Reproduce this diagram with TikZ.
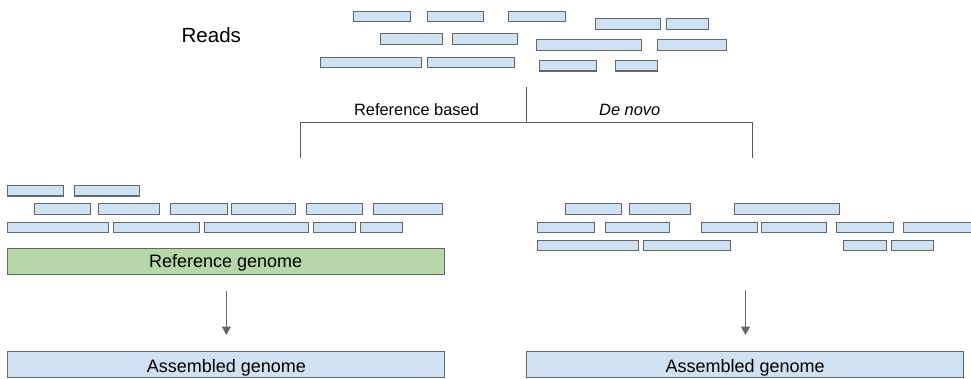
\documentclass[tikz,border=0pt]{standalone}
\usepackage{fontspec}
\setmainfont{Liberation Sans}
\usetikzlibrary{arrows.meta}
\definecolor{readblue}{HTML}{CFE2F3}
\definecolor{refgreen}{HTML}{B6D7A8}
\definecolor{boxline}{HTML}{666666}
\definecolor{treeline}{HTML}{595959}
\tikzset{
  read/.style={draw=boxline, fill=readblue, line width=1.1pt, inner sep=0pt,
    minimum height=10.5pt, anchor=north west},
  genome/.style={draw=boxline, line width=1.1pt, inner sep=0pt,
    minimum height=26pt, minimum width=437pt, anchor=north west},
  label/.style={anchor=base, inner sep=0pt},
  branch/.style={draw=treeline, line width=1pt},
  flow/.style={draw=boxline, line width=1.3pt, -{Triangle[length=8.5pt,width=9pt]}},
}
\begin{document}
\begin{tikzpicture}[x=1pt, y=-1pt]
  \clip (0,0) rectangle (971,379);
  \useasboundingbox (0,0) rectangle (971,379);

  % ---- unsorted reads ----
  \node[label, font=\fontsize{20.5}{24}\selectfont] (readslabel) at (211.3,42.3) {Reads};
  \foreach \x/\y/\w [count=\i] in {
      353.3/10.7/56.7, 426.7/10.7/56.6, 508.3/10.7/56.7,
      595/18.3/65, 666/18.3/42.3,
      380/33.3/61.7, 452.3/33.3/65,
      536/39.3/104.7, 656.7/39.3/69.3,
      320/56.7/100.7, 426.7/56.7/87,
      539.3/60/56.4, 614.7/60/42.6}
    \node[read, minimum width=\w pt] (top\i) at (\x,\y) {};

  % ---- branching into the two strategies ----
  \coordinate (split) at (526,87);
  \coordinate (fork) at (526,122.7);
  \coordinate (leftend) at (300.5,158.3);
  \coordinate (rightend) at (752.5,158.3);
  \path[branch] (split) -- (fork);
  \path[branch] (leftend) -- (leftend |- fork) -- (rightend |- fork) -- (rightend);
  \node[label, font=\fontsize{16.4}{20}\selectfont] (refbased) at (416.5,115.7) {Reference based};
  \node[label, font=\fontsize{16.4}{20}\selectfont\itshape] (denovo) at (629.7,115.7) {De novo};

  % ---- reads aligned to a reference ----
  \foreach \x/\y/\w [count=\i] in {
      7.3/185/56, 74/185/65,
      33.7/203.3/56.3, 98.3/203.3/61, 170/203.3/56.7, 231/203.3/64.3,
      306/203.3/56.3, 372.7/203.3/69.3,
      7.3/221.7/100.4, 112.7/221.7/86.6, 203.7/221.7/104.6,
      312.7/221.7/42.6, 360/221.7/42.3}
    \node[read, minimum width=\w pt] (aln\i) at (\x,\y) {};
  \node[genome, fill=refgreen] (refgenome) at (7.3,248.3) {};
  \node[label, font=\fontsize{18}{22}\selectfont] at (225.7,267.3) {Reference genome};

  % ---- reads overlapped de novo ----
  \foreach \x/\y/\w [count=\i] in {
      565/203.3/56, 629.3/203.3/61, 734.3/203.3/104.7,
      537.3/221.7/56.7, 604.7/221.7/64.6, 700.7/221.7/56, 761/221.7/65,
      836/221.7/57, 903.3/221.7/80,
      537.3/239.7/101, 643.3/239.7/86.4, 843.3/239.7/42.7, 890.7/239.7/42}
    \node[read, minimum width=\w pt] (dn\i) at (\x,\y) {};

  % ---- assembled results ----
  \node[genome, fill=readblue] (asmleft) at (7.3,351) {};
  \node[label, font=\fontsize{18}{22}\selectfont] at (asmleft.center |- 0,372.3) {Assembled genome};
  \node[genome, fill=readblue] (asmright) at (526,351) {};
  \node[label, font=\fontsize{18}{22}\selectfont] at (asmright.center |- 0,372.3) {Assembled genome};

  \coordinate (rightstart) at (745.5,290);
  \path[flow, shorten <=16pt, shorten >=16pt] (refgenome.south) -- (asmleft.north);
  \path[flow, shorten >=16pt] (rightstart) -- (rightstart |- asmright.north);
\end{tikzpicture}
\end{document}
